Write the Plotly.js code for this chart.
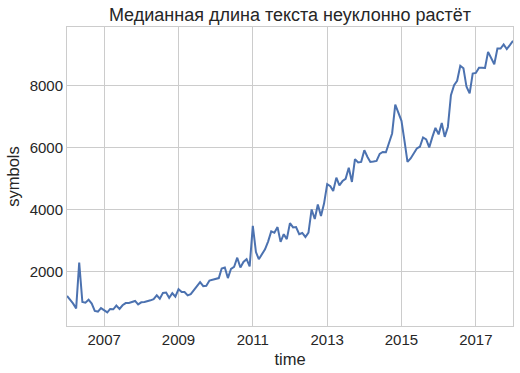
<!DOCTYPE html>
<html>
<head>
<meta charset="utf-8">
<script src="https://cdn.plot.ly/plotly-3.0.1.min.js"></script>
<style>html,body{margin:0;padding:0;background:#fff;}#chart{width:520px;height:373px;}</style>
</head>
<body>
<div id="chart"></div>
<script>
var startYear = 2006;
var symbols = [
  1200, 1080, 960, 800, 2280, 1005, 985, 1080, 955, 715, 695, 810,
  740, 672, 780, 770, 890, 780, 900, 970, 975, 1000, 1040, 930,
  995, 1005, 1020, 1060, 1100, 1220, 1110, 1300, 1310, 1140, 1290, 1180,
  1420, 1330, 1330, 1220, 1260, 1380, 1530, 1650, 1520, 1530, 1700, 1720,
  1750, 1780, 2090, 2120, 1780, 2080, 2140, 2440, 2120, 2300, 2390, 2160,
  3470, 2620, 2390, 2550, 2710, 2970, 3290, 3250, 3430, 2950, 3200, 3040,
  3560, 3420, 3430, 3200, 3240, 3110, 3250, 4000, 3690, 4160, 3790, 4190,
  4820, 4750, 4600, 5030, 4780, 4920, 4990, 5350, 4890, 5630, 5520, 5540,
  5920, 5700, 5540, 5550, 5570, 5800, 5860, 5850, 6190, 6460, 7390, 7100,
  6870, 6190, 5540, 5650, 5830, 5975, 6030, 6330, 6270, 6010, 6350, 6640,
  6430, 6800, 6350, 6670, 7700, 8025, 8165, 8650, 8570, 7970, 7755, 8400,
  8420, 8590, 8590, 8580, 9100, 8915, 8700, 9210, 9210, 9340, 9190, 9320,
  9460
];
var months = symbols.map(function(v, i){
  var y = startYear + Math.floor(i / 12);
  var m = (i % 12) + 1;
  return y + '-' + (m < 10 ? '0' + m : m) + '-01';
});
var tickVals = ['2007-01-01','2009-01-01','2011-01-01','2013-01-01','2015-01-01','2017-01-01'];
var tickText = ['2007','2009','2011','2013','2015','2017'];
var titleText = 'Медианная длина текста неуклонно растёт';

var font = 'Liberation Sans, Arial, sans-serif';
var trace = {
  x: months, y: symbols, type: 'scatter', mode: 'lines',
  line: {color: '#4C72B0', width: 2}, hoverinfo: 'skip'
};
var layout = {
  width: 520, height: 373,
  margin: {l: 67, r: 7, t: 27, b: 47, pad: 0},
  paper_bgcolor: '#ffffff', plot_bgcolor: '#ffffff',
  font: {family: font, color: '#262626', size: 15},
  showlegend: false,
  title: {text: titleText, font: {family: font, size: 18, color: '#262626'},
          x: 0.5, xref: 'paper', xanchor: 'center', y: 1, yref: 'paper', yanchor: 'bottom', pad: {b: 6}},
  xaxis: {
    type: 'date', range: [months[0], months[months.length - 1]],
    tickvals: tickVals, ticktext: tickText, ticks: '', ticklen: 0,
    showgrid: true, gridcolor: '#cccccc', gridwidth: 1,
    showline: true, linecolor: '#cccccc', linewidth: 1, mirror: true,
    zeroline: false, tickfont: {size: 15, color: '#262626'},
    title: {text: 'time', font: {size: 16.5, color: '#262626'}, standoff: 6}
  },
  yaxis: {
    range: [229, 9905], tickvals: [2000, 4000, 6000, 8000], ticktext: ['2000','4000','6000','8000'],
    ticks: '', showgrid: true, gridcolor: '#cccccc', gridwidth: 1,
    showline: true, linecolor: '#cccccc', linewidth: 1, mirror: true,
    zeroline: false, tickfont: {size: 15, color: '#262626'},
    title: {text: 'symbols', font: {size: 16.5, color: '#262626'}, standoff: 5}
  }
};
Plotly.newPlot('chart', [trace], layout, {displayModeBar: false, staticPlot: true});
</script>
</body>
</html>
